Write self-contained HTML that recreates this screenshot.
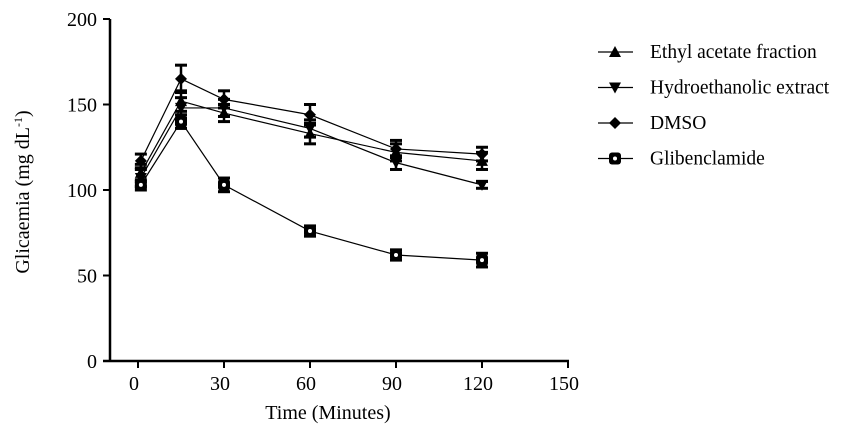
<!DOCTYPE html>
<html><head><meta charset="utf-8"><style>
html,body{margin:0;padding:0;background:#fff;}
svg{display:block;font-family:"Liberation Serif",serif;}
</style></head><body>
<svg id="chart" width="848" height="444" viewBox="0 0 848 444"></svg>
<script>
const times=[1,15,30,60,90,120];
const ethyl=[110,152,145,133,122,117];
const ethylErr=[5,6,5,6,5,5];
const hydro=[107,148,148,136,116,103];
const hydroErr=[5,6,5,5,4,2];
const dmso=[117,165,153,144,124,121];
const dmsoErr=[4,8,5,6,5,4];
const glib=[103,140,103,76,62,59];
const glibErr=[3,4,4,3,3,4];
const xTicks=[0,30,60,90,120,150];
const yTicks=[0,50,100,150,200];
const seriesNames=["Ethyl acetate fraction","Hydroethanolic extract","DMSO","Glibenclamide"];
const NS="http://www.w3.org/2000/svg";
const svg=document.getElementById('chart');
const X=v=>138+v*(568-138)/150;
const Y=v=>361-v*(361-19)/200;
function mk(t,a,p){const e=document.createElementNS(NS,t);for(const k in a)e.setAttribute(k,a[k]);(p||svg).appendChild(e);return e;}
const axes=mk('g',{});


mk('line',{x1:110,y1:19,x2:110,y2:361,stroke:'#000','stroke-width':2.5},axes);
mk('line',{x1:103,y1:361,x2:569,y2:361,stroke:'#000','stroke-width':2.5},axes);
yTicks.forEach(v=>{
  mk('line',{x1:103,y1:Y(v),x2:110,y2:Y(v),stroke:'#000','stroke-width':2},axes);
  const t=mk('text',{x:97,y:Y(v)+7,'text-anchor':'end','font-size':20},axes);t.textContent=v;
  
  
});
xTicks.forEach(v=>{
  mk('line',{x1:X(v),y1:361,x2:X(v),y2:368,stroke:'#000','stroke-width':2},axes);
  const t=mk('text',{x:X(v)-4,y:390,'text-anchor':'middle','font-size':20},axes);t.textContent=v;
  
  
});
const xt=mk('text',{x:328,y:419,'text-anchor':'middle','font-size':20});xt.textContent='Time (Minutes)';


const yt=mk('text',{x:0,y:0,'text-anchor':'middle','font-size':20,transform:'translate(29,192) rotate(-90)'});
yt.innerHTML='Glicaemia (mg dL<tspan dy="-7" font-size="12">-1</tspan><tspan dy="7">)</tspan>';


function marker(type,x,y,p){
  if(type==='up')mk('path',{d:`M${x},${y-6}L${x+6},${y+5}L${x-6},${y+5}Z`,fill:'#000'},p);
  else if(type==='down')mk('path',{d:`M${x},${y+6}L${x+6},${y-5}L${x-6},${y-5}Z`,fill:'#000'},p);
  else if(type==='diamond')mk('path',{d:`M${x},${y-6}L${x+6},${y}L${x},${y+6}L${x-6},${y}Z`,fill:'#000'},p);
  else{mk('rect',{x:x-6,y:y-6,width:12,height:12,rx:3,fill:'#000'},p);mk('circle',{cx:x,cy:y,r:2,fill:'#fff'},p);}
}
const series=[[ethyl,ethylErr,'up','series-ethyl-acetate'],[hydro,hydroErr,'down','series-hydroethanolic'],[dmso,dmsoErr,'diamond','series-dmso'],[glib,glibErr,'circ','series-glibenclamide']];
series.forEach(([vals,errs,type,name])=>{
  const g=mk('g',{});
  
  
  mk('polyline',{points:vals.map((v,i)=>X(times[i])+','+Y(v)).join(' '),fill:'none',stroke:'#000','stroke-width':1.2},g);
  vals.forEach((v,i)=>{
    const x=X(times[i]);
    const e=errs[i];
    mk('line',{x1:x,y1:Y(v+e),x2:x,y2:Y(v-e),stroke:'#000','stroke-width':2.5},g);
    mk('line',{x1:x-6,y1:Y(v+e),x2:x+6,y2:Y(v+e),stroke:'#000','stroke-width':3},g);
    mk('line',{x1:x-6,y1:Y(v-e),x2:x+6,y2:Y(v-e),stroke:'#000','stroke-width':3},g);
    marker(type,x,Y(v),g);
  });
});
const types=['up','down','diamond','circ'];
seriesNames.forEach((n,i)=>{
  const y=52+i*35.5;
  const g=mk('g',{});
  
  
  mk('line',{x1:598,y1:y,x2:633,y2:y,stroke:'#000','stroke-width':1.2},g);
  marker(types[i],615,y,g);
  const t=mk('text',{x:650,y:y+6,'font-size':19.5},g);t.textContent=n;
});
</script>
</body></html>
